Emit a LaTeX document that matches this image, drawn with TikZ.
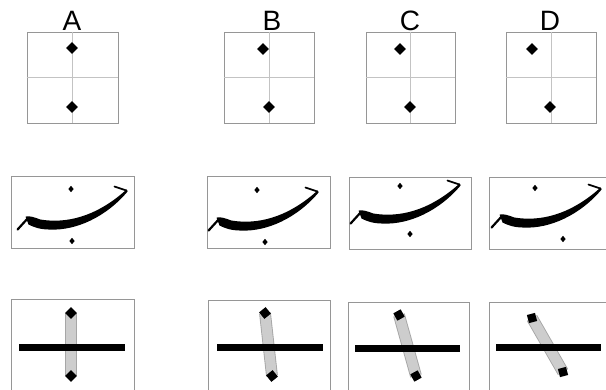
\documentclass[tikz,border=0pt]{standalone}
\usepackage{fontspec}
\setmainfont{Liberation Sans}
\usetikzlibrary{positioning,shapes.geometric}
\definecolor{FrameGray}{RGB}{150,150,150}
\definecolor{CrossGray}{RGB}{195,195,195}
\definecolor{BarGray}{RGB}{205,205,205}
\tikzset{
	colhead/.style={font=\fontsize{28}{28}\selectfont,anchor=base,inner sep=0pt},
	panel/.style={draw=FrameGray,line width=0.9pt,inner sep=0pt},
	cross/.style={draw=CrossGray,line width=0.8pt},
	dia/.style={diamond,fill=black,inner sep=0pt,minimum size=12pt},
	speck/.style={diamond,fill=black,inner sep=0pt,minimum width=5.5pt,minimum height=6.5pt},
	sidebar/.style={draw=black!35,double=BarGray,double distance=10pt,line width=0.9pt},
	rule/.style={draw=black,line width=7pt},
	swash/.pic={
		\fill (15,41) .. controls (20,40) and (24,42) .. (30,44)
			.. controls (55,48) and (85,42) .. (116,14) -- (117,16)
			.. controls (95,42) and (65,55) .. (40,54)
			.. controls (30,54) and (24,52) .. (18,49) -- cycle;
		\draw[line width=2.2pt,line cap=round] (7,54) -- (17,43);
		\draw[line width=1.8pt,line cap=round] (116,15) -- (104,11);
	},
}
\begin{document}
\begin{tikzpicture}[x=1pt,y=-1pt]
	\useasboundingbox (0,0) rectangle (606,389);
	\node[colhead] (hA) at (72,30) {A};
	\node[colhead] (hB) at (272,30) {B};
	\node[colhead] (hC) at (410,30) {C};
	\node[colhead] (hD) at (550,30) {D};

	\node[panel,minimum width=91pt,minimum height=91pt] (pA1) at (72.5,77.5) {};
	\node[panel,minimum width=90pt,minimum height=91pt] (pB1) at (269,77.5) {};
	\node[panel,minimum width=89pt,minimum height=91pt] (pC1) at (410.5,77.5) {};
	\node[panel,minimum width=90pt,minimum height=91pt] (pD1) at (551,77.5) {};
	\draw[cross] (pA1.west) -- (pA1.east);
	\draw[cross] (pA1.north) -- (pA1.south);
	\draw[cross] (pB1.west) -- (pB1.east);
	\draw[cross] (pB1.north) -- (pB1.south);
	\draw[cross] (pC1.west) -- (pC1.east);
	\draw[cross] (pC1.north) -- (pC1.south);
	\draw[cross] (pD1.west) -- (pD1.east);
	\draw[cross] (pD1.north) -- (pD1.south);
	\node[dia] (tA1) at (72,48) {};
	\node[dia] (bA1) at (72,107) {};
	\node[dia] (tB1) at (263,49) {};
	\node[dia] (bB1) at (269,107) {};
	\node[dia] (tC1) at (400,49) {};
	\node[dia] (bC1) at (410,107) {};
	\node[dia] (tD1) at (532,49) {};
	\node[dia] (bD1) at (550,107) {};

	\node[panel,minimum width=123pt,minimum height=72pt] (pA2) at (72.5,212) {};
	\node[panel,minimum width=123pt,minimum height=72pt] (pB2) at (268.5,212) {};
	\node[panel,minimum width=122pt,minimum height=72pt] (pC2) at (410,213) {};
	\node[panel,minimum width=120pt,minimum height=72pt] (pD2) at (549,213) {};
	\pic at (pA2.north west) {swash};
	\pic[shift={(-5,1)}] at (pB2.north west) {swash};
	\pic[shift={(-5,-7)}] at (pC2.north west) {swash};
	\pic[shift={(-4,-3)}] at (pD2.north west) {swash};
	\node[speck] (uA2) at (71,189) {};
	\node[speck] (lA2) at (72,241) {};
	\node[speck] (uB2) at (257,190) {};
	\node[speck] (lB2) at (265,242) {};
	\node[speck] (uC2) at (400,186) {};
	\node[speck] (lC2) at (410,234) {};
	\node[speck] (uD2) at (535,188) {};
	\node[speck] (lD2) at (563,239) {};

	\node[panel,minimum width=123pt,minimum height=91pt] (pA3) at (72.5,344.5) {};
	\node[panel,minimum width=122pt,minimum height=90pt] (pB3) at (269,345) {};
	\node[panel,minimum width=121pt,minimum height=88pt] (pC3) at (408.5,346) {};
	\node[panel,minimum width=120pt,minimum height=88pt] (pD3) at (549,346) {};
	\coordinate (tA3) at (71,313);
	\coordinate (bA3) at (71,376);
	\coordinate (tB3) at (265,313);
	\coordinate (bB3) at (272,376);
	\coordinate (tC3) at (399,315);
	\coordinate (bC3) at (416,376);
	\coordinate (tD3) at (532,318);
	\coordinate (bD3) at (563,372);
	\draw[sidebar] (tA3) -- (bA3);
	\draw[sidebar] (tB3) -- (bB3);
	\draw[sidebar] (tC3) -- (bC3);
	\draw[sidebar] (tD3) -- (bD3);
	\coordinate (lA3) at (19,347);
	\coordinate (rA3) at (125,347);
	\coordinate (lB3) at (217,347);
	\coordinate (rB3) at (323,347);
	\coordinate (lC3) at (355,348);
	\coordinate (rC3) at (460,348);
	\coordinate (lD3) at (496,347);
	\coordinate (rD3) at (601,347);
	\draw[rule] (lA3) -- (rA3);
	\draw[rule] (lB3) -- (rB3);
	\draw[rule] (lC3) -- (rC3);
	\draw[rule] (lD3) -- (rD3);
	\node[dia] (mtA3) at (tA3) {};
	\node[dia] (mbA3) at (bA3) {};
	\node[dia,rotate=-6] (mtB3) at (tB3) {};
	\node[dia,rotate=-6] (mbB3) at (bB3) {};
	\node[dia,rotate=-16] (mtC3) at (tC3) {};
	\node[dia,rotate=-16] (mbC3) at (bC3) {};
	\node[dia,rotate=-30] (mtD3) at (tD3) {};
	\node[dia,rotate=-30] (mbD3) at (bD3) {};
\end{tikzpicture}
\end{document}
